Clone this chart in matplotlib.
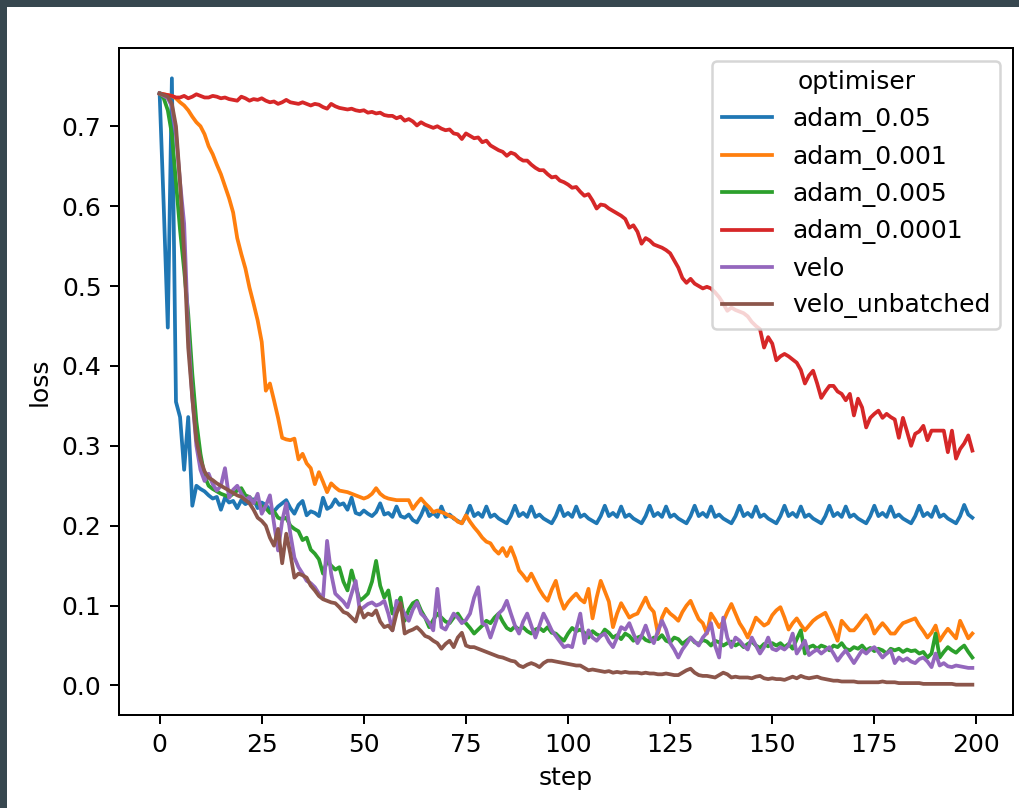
# coding=utf-8
import matplotlib.pyplot as plt
import numpy as np
from matplotlib.patches import Rectangle

steps = np.arange(200)

adam_0_05 = [
    0.741, 0.600, 0.448, 0.760, 0.355, 0.336, 0.270, 0.336, 0.225, 0.250,
    0.246, 0.243, 0.238, 0.234, 0.236, 0.220, 0.235, 0.229, 0.231, 0.222,
    0.232, 0.227, 0.230, 0.233, 0.222, 0.229, 0.226, 0.220, 0.218, 0.224,
    0.228, 0.232, 0.222, 0.215, 0.226, 0.231, 0.213, 0.218, 0.216, 0.212,
    0.235, 0.221, 0.224, 0.233, 0.226, 0.228, 0.220, 0.235, 0.216, 0.214,
    0.219, 0.215, 0.212, 0.217, 0.228, 0.214, 0.216, 0.211, 0.224, 0.212,
    0.210, 0.214, 0.207, 0.204, 0.213, 0.225, 0.212, 0.216, 0.211, 0.224,
    0.211, 0.214, 0.209, 0.206, 0.203, 0.212, 0.225, 0.212, 0.216, 0.211,
    0.224, 0.211, 0.214, 0.209, 0.206, 0.203, 0.212, 0.225, 0.212, 0.216,
    0.211, 0.224, 0.211, 0.214, 0.209, 0.206, 0.203, 0.212, 0.225, 0.212,
    0.216, 0.211, 0.224, 0.211, 0.214, 0.209, 0.206, 0.203, 0.212, 0.225,
    0.212, 0.216, 0.211, 0.224, 0.211, 0.214, 0.209, 0.206, 0.203, 0.212,
    0.225, 0.212, 0.216, 0.211, 0.224, 0.211, 0.214, 0.209, 0.206, 0.203,
    0.212, 0.225, 0.212, 0.216, 0.211, 0.224, 0.211, 0.214, 0.209, 0.206,
    0.203, 0.212, 0.225, 0.212, 0.216, 0.211, 0.224, 0.211, 0.214, 0.209,
    0.206, 0.203, 0.212, 0.225, 0.212, 0.216, 0.211, 0.224, 0.211, 0.214,
    0.209, 0.206, 0.203, 0.212, 0.225, 0.212, 0.216, 0.211, 0.224, 0.211,
    0.214, 0.209, 0.206, 0.203, 0.212, 0.225, 0.212, 0.216, 0.211, 0.224,
    0.211, 0.214, 0.209, 0.206, 0.203, 0.212, 0.225, 0.212, 0.216, 0.211,
    0.224, 0.211, 0.214, 0.209, 0.206, 0.203, 0.212, 0.226, 0.214, 0.210,
]

adam_0_001 = [
    0.741, 0.740, 0.739, 0.738, 0.735, 0.730, 0.726, 0.720, 0.712, 0.705,
    0.700, 0.690, 0.675, 0.665, 0.652, 0.640, 0.625, 0.610, 0.592, 0.560,
    0.540, 0.522, 0.498, 0.478, 0.457, 0.430, 0.369, 0.378, 0.357, 0.335,
    0.310, 0.308, 0.307, 0.309, 0.283, 0.290, 0.278, 0.272, 0.252, 0.267,
    0.255, 0.242, 0.253, 0.248, 0.244, 0.243, 0.242, 0.240, 0.238, 0.236,
    0.234, 0.236, 0.240, 0.247, 0.240, 0.236, 0.234, 0.233, 0.232, 0.232,
    0.232, 0.232, 0.221, 0.228, 0.234, 0.228, 0.223, 0.217, 0.219, 0.217,
    0.215, 0.212, 0.210, 0.205, 0.203, 0.213, 0.205, 0.198, 0.192, 0.185,
    0.180, 0.178, 0.170, 0.165, 0.172, 0.162, 0.173, 0.160, 0.144, 0.138,
    0.131, 0.140, 0.130, 0.120, 0.112, 0.106, 0.120, 0.131, 0.110, 0.096,
    0.104, 0.110, 0.115, 0.108, 0.104, 0.121, 0.084, 0.110, 0.131, 0.118,
    0.105, 0.073, 0.090, 0.103, 0.094, 0.085, 0.088, 0.090, 0.100, 0.110,
    0.098, 0.092, 0.065, 0.085, 0.096, 0.090, 0.086, 0.081, 0.092, 0.100,
    0.106, 0.094, 0.083, 0.078, 0.065, 0.090, 0.082, 0.073, 0.080, 0.092,
    0.102, 0.090, 0.078, 0.070, 0.060, 0.072, 0.085, 0.080, 0.075, 0.078,
    0.088, 0.094, 0.098, 0.085, 0.070, 0.078, 0.084, 0.076, 0.069, 0.075,
    0.081, 0.085, 0.088, 0.091, 0.080, 0.069, 0.056, 0.081, 0.075, 0.069,
    0.069, 0.075, 0.082, 0.088, 0.080, 0.065, 0.072, 0.078, 0.072, 0.065,
    0.065, 0.072, 0.078, 0.080, 0.082, 0.084, 0.075, 0.068, 0.060, 0.066,
    0.075, 0.056, 0.064, 0.071, 0.065, 0.059, 0.081, 0.070, 0.059, 0.065,
]

adam_0_005 = [
    0.741, 0.735, 0.720, 0.690, 0.630, 0.570, 0.520, 0.465, 0.390, 0.330,
    0.290, 0.262, 0.250, 0.246, 0.243, 0.240, 0.238, 0.236, 0.240, 0.244,
    0.247, 0.238, 0.236, 0.230, 0.228, 0.224, 0.222, 0.216, 0.218, 0.210,
    0.208, 0.210, 0.200, 0.196, 0.193, 0.182, 0.185, 0.170, 0.165, 0.158,
    0.140, 0.156, 0.150, 0.145, 0.148, 0.130, 0.119, 0.144, 0.125, 0.106,
    0.110, 0.115, 0.130, 0.156, 0.125, 0.110, 0.119, 0.090, 0.100, 0.110,
    0.081, 0.095, 0.103, 0.106, 0.094, 0.085, 0.073, 0.082, 0.090, 0.085,
    0.080, 0.078, 0.085, 0.090, 0.082, 0.078, 0.072, 0.065, 0.070, 0.075,
    0.081, 0.078, 0.085, 0.090, 0.080, 0.072, 0.069, 0.074, 0.070, 0.073,
    0.068, 0.065, 0.070, 0.072, 0.068, 0.073, 0.066, 0.065, 0.060, 0.056,
    0.065, 0.072, 0.068, 0.070, 0.066, 0.060, 0.068, 0.064, 0.062, 0.070,
    0.066, 0.060, 0.063, 0.058, 0.065, 0.062, 0.056, 0.060, 0.062, 0.057,
    0.055, 0.060, 0.058, 0.063, 0.056, 0.054, 0.060, 0.058, 0.052, 0.056,
    0.060, 0.054, 0.052, 0.057, 0.055, 0.050, 0.056, 0.054, 0.050, 0.053,
    0.055, 0.050, 0.053, 0.048, 0.052, 0.055, 0.050, 0.047, 0.052, 0.049,
    0.053, 0.050, 0.053, 0.048, 0.052, 0.046, 0.058, 0.069, 0.040, 0.048,
    0.050, 0.046, 0.050, 0.048, 0.044, 0.050, 0.048, 0.053, 0.046, 0.044,
    0.048, 0.046, 0.050, 0.044, 0.047, 0.043, 0.046, 0.044, 0.040, 0.046,
    0.044, 0.046, 0.042, 0.045, 0.043, 0.044, 0.040, 0.042, 0.035, 0.040,
    0.065, 0.035, 0.042, 0.048, 0.044, 0.041, 0.046, 0.050, 0.042, 0.035,
]

adam_0_0001 = [
    0.741, 0.740, 0.739, 0.738, 0.736, 0.736, 0.738, 0.735, 0.737, 0.740,
    0.738, 0.736, 0.736, 0.738, 0.737, 0.735, 0.736, 0.734, 0.733, 0.732,
    0.737, 0.735, 0.732, 0.734, 0.733, 0.735, 0.732, 0.730, 0.731, 0.728,
    0.730, 0.733, 0.730, 0.729, 0.728, 0.730, 0.728, 0.726, 0.728, 0.727,
    0.724, 0.722, 0.728, 0.725, 0.723, 0.722, 0.721, 0.722, 0.720, 0.719,
    0.720, 0.717, 0.718, 0.716, 0.717, 0.714, 0.713, 0.713, 0.710, 0.712,
    0.707, 0.709, 0.706, 0.701, 0.705, 0.702, 0.700, 0.698, 0.700, 0.697,
    0.695, 0.696, 0.691, 0.690, 0.684, 0.691, 0.688, 0.685, 0.686, 0.680,
    0.682, 0.676, 0.673, 0.670, 0.668, 0.663, 0.667, 0.665, 0.660, 0.657,
    0.657, 0.652, 0.648, 0.645, 0.645, 0.640, 0.636, 0.637, 0.632, 0.630,
    0.627, 0.623, 0.624, 0.618, 0.613, 0.615, 0.607, 0.597, 0.602, 0.601,
    0.597, 0.594, 0.591, 0.588, 0.584, 0.573, 0.576, 0.568, 0.553, 0.560,
    0.557, 0.552, 0.550, 0.548, 0.545, 0.541, 0.532, 0.523, 0.510, 0.504,
    0.509, 0.503, 0.500, 0.497, 0.499, 0.497, 0.492, 0.486, 0.478, 0.469,
    0.473, 0.470, 0.468, 0.466, 0.462, 0.455, 0.450, 0.446, 0.423, 0.436,
    0.428, 0.407, 0.412, 0.415, 0.412, 0.408, 0.404, 0.395, 0.378, 0.388,
    0.394, 0.378, 0.360, 0.368, 0.375, 0.375, 0.368, 0.365, 0.357, 0.365,
    0.338, 0.359, 0.348, 0.323, 0.335, 0.340, 0.344, 0.335, 0.340, 0.336,
    0.333, 0.310, 0.335, 0.318, 0.300, 0.315, 0.318, 0.325, 0.307, 0.319,
    0.319, 0.319, 0.319, 0.292, 0.319, 0.284, 0.296, 0.303, 0.313, 0.294,
]

velo = [
    0.741, 0.738, 0.735, 0.725, 0.690, 0.630, 0.578, 0.440, 0.360, 0.300,
    0.270, 0.256, 0.265, 0.252, 0.244, 0.250, 0.272, 0.235, 0.245, 0.250,
    0.240, 0.232, 0.236, 0.228, 0.240, 0.215, 0.225, 0.238, 0.203, 0.169,
    0.206, 0.228, 0.190, 0.160, 0.148, 0.140, 0.131, 0.128, 0.123, 0.115,
    0.109, 0.181, 0.140, 0.115, 0.110, 0.105, 0.098, 0.115, 0.131, 0.094,
    0.098, 0.102, 0.104, 0.100, 0.102, 0.106, 0.090, 0.069, 0.106, 0.098,
    0.090, 0.081, 0.095, 0.104, 0.090, 0.085, 0.078, 0.069, 0.121, 0.073,
    0.070, 0.080, 0.090, 0.085, 0.078, 0.082, 0.090, 0.110, 0.123, 0.078,
    0.075, 0.060, 0.075, 0.090, 0.095, 0.106, 0.090, 0.075, 0.065, 0.080,
    0.090, 0.075, 0.060, 0.075, 0.090, 0.080, 0.069, 0.062, 0.055, 0.048,
    0.050, 0.048, 0.070, 0.090, 0.053, 0.069, 0.060, 0.056, 0.062, 0.065,
    0.055, 0.048, 0.060, 0.073, 0.070, 0.078, 0.065, 0.053, 0.062, 0.075,
    0.060, 0.053, 0.068, 0.081, 0.070, 0.053, 0.045, 0.035, 0.045, 0.052,
    0.060, 0.055, 0.050, 0.060, 0.066, 0.078, 0.050, 0.035, 0.085, 0.060,
    0.048, 0.060, 0.056, 0.050, 0.045, 0.060, 0.050, 0.040, 0.048, 0.060,
    0.046, 0.044, 0.048, 0.045, 0.050, 0.065, 0.040, 0.048, 0.056, 0.038,
    0.042, 0.045, 0.040, 0.044, 0.048, 0.040, 0.031, 0.038, 0.044, 0.036,
    0.028, 0.036, 0.044, 0.040, 0.045, 0.048, 0.042, 0.035, 0.040, 0.044,
    0.028, 0.035, 0.031, 0.034, 0.030, 0.028, 0.033, 0.035, 0.030, 0.023,
    0.040, 0.025, 0.028, 0.024, 0.023, 0.025, 0.024, 0.023, 0.022, 0.022,
]

velo_unbatched = [
    0.741, 0.739, 0.737, 0.728, 0.700, 0.630, 0.540, 0.423, 0.360, 0.307,
    0.283, 0.268, 0.260, 0.257, 0.253, 0.250, 0.247, 0.244, 0.241, 0.238,
    0.236, 0.232, 0.228, 0.220, 0.210, 0.206, 0.200, 0.185, 0.175, 0.196,
    0.153, 0.190, 0.165, 0.135, 0.140, 0.138, 0.135, 0.125, 0.119, 0.112,
    0.108, 0.106, 0.104, 0.103, 0.098, 0.092, 0.090, 0.085, 0.080, 0.098,
    0.085, 0.090, 0.088, 0.094, 0.080, 0.073, 0.075, 0.069, 0.090, 0.103,
    0.065, 0.068, 0.070, 0.073, 0.068, 0.062, 0.060, 0.056, 0.053, 0.046,
    0.052, 0.056, 0.048, 0.060, 0.066, 0.050, 0.048, 0.048, 0.046, 0.044,
    0.042, 0.040, 0.038, 0.036, 0.035, 0.033, 0.031, 0.030, 0.025, 0.023,
    0.026, 0.028, 0.026, 0.023, 0.028, 0.031, 0.031, 0.030, 0.029, 0.028,
    0.027, 0.026, 0.025, 0.025, 0.022, 0.019, 0.020, 0.019, 0.018, 0.017,
    0.018, 0.016, 0.017, 0.016, 0.017, 0.016, 0.016, 0.016, 0.015, 0.016,
    0.015, 0.015, 0.014, 0.014, 0.015, 0.014, 0.013, 0.013, 0.016, 0.019,
    0.021, 0.016, 0.013, 0.012, 0.012, 0.011, 0.010, 0.013, 0.016, 0.014,
    0.010, 0.011, 0.010, 0.010, 0.010, 0.009, 0.011, 0.012, 0.009, 0.008,
    0.009, 0.008, 0.008, 0.007, 0.009, 0.011, 0.009, 0.012, 0.010, 0.009,
    0.010, 0.011, 0.009, 0.008, 0.007, 0.006, 0.006, 0.005, 0.005, 0.005,
    0.005, 0.004, 0.004, 0.004, 0.004, 0.004, 0.004, 0.005, 0.004, 0.004,
    0.004, 0.003, 0.003, 0.003, 0.003, 0.003, 0.003, 0.002, 0.002, 0.002,
    0.002, 0.002, 0.002, 0.002, 0.002, 0.001, 0.001, 0.001, 0.001, 0.001,
]

series_names = ['adam_0.05', 'adam_0.001', 'adam_0.005', 'adam_0.0001', 'velo', 'velo_unbatched']
series_values = [adam_0_05, adam_0_001, adam_0_005, adam_0_0001, velo, velo_unbatched]
series_colors = ['#1f77b4', '#ff7f0e', '#2ca02c', '#d62728', '#9467bd', '#8c564b']

if __name__ == '__main__':
    fig = plt.figure(figsize=(1019 / 180, 808 / 180), dpi=180, facecolor='white')

    # dark screenshot frame on the left and top edges
    frame_color = '#37474f'
    fig.patches.append(Rectangle((0, 0), 7 / 1019, 1, transform=fig.transFigure,
                                 facecolor=frame_color, edgecolor='none', zorder=0))
    fig.patches.append(Rectangle((0, 1 - 7 / 808), 1, 7 / 808, transform=fig.transFigure,
                                 facecolor=frame_color, edgecolor='none', zorder=0))

    ax = fig.add_axes([119 / 1019, 93 / 808, 894 / 1019, 667 / 808])

    for name, vals, c in zip(series_names, series_values, series_colors):
        ax.plot(steps, vals, color=c, linewidth=1.5, label=name)

    ax.set_xticks(np.arange(0, 201, 25))
    ax.set_yticks(np.arange(0, 0.71, 0.1))
    ax.set_xlabel('step')
    ax.set_ylabel('loss')
    ax.legend(title='optimiser', loc='upper right')

    plt.savefig('out.png', dpi=180)
